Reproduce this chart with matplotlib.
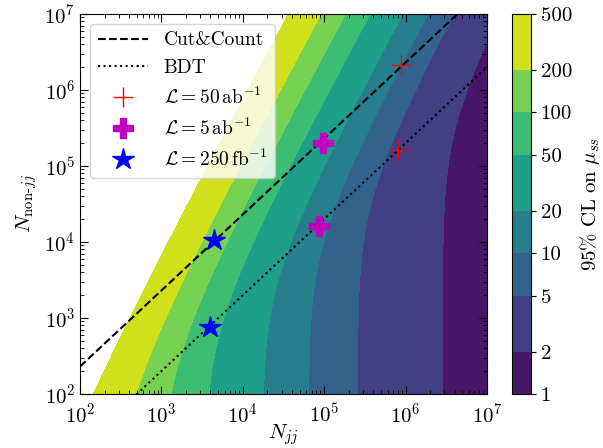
import numpy as np
import matplotlib
matplotlib.use('Agg')
import matplotlib.pyplot as plt
from matplotlib.colors import LogNorm

plt.rcParams['mathtext.fontset'] = 'cm'
plt.rcParams['font.family'] = 'serif'
plt.rcParams['font.serif'] = ['cmr10', 'DejaVu Serif']
plt.rcParams['axes.formatter.use_mathtext'] = True

# contour levels of the 95% CL limit
levels = [1, 2, 5, 10, 20, 50, 100, 200, 500]
level_labels = ['1', '2', '5', '10', '20', '50', '100', '200', '500']

# limit surface, fitted to the contour positions:
# mu = sqrt(a*Njj + b*Nnon + c*Njj^2) / Njj + d / (Njj + n0)
coef_a = 5.5e6
coef_b = 3.3e7
coef_c = 2.0
coef_d = 4.0e4
coef_n0 = 500.0

# working-point lines
cc_njj = [1e2, 1e7]
cc_nnon = [2.3e2, 2.3e7]
bdt_njj = [1e2, 1e7]
bdt_nnon = [2.0e1, 2.0e6]

# benchmark points: (cut&count, bdt)
lumi50_njj = [8.7e5, 8.0e5]
lumi50_nnon = [2.1e6, 1.6e5]
lumi5_njj = [9.6e4, 8.7e4]
lumi5_nnon = [2.0e5, 1.6e4]
lumi250_njj = [4.4e3, 4.0e3]
lumi250_nnon = [1.07e4, 7.6e2]

njj = np.logspace(2, 7, 400)
nnon = np.logspace(2, 7, 400)
X, Y = np.meshgrid(njj, nnon)
Z = np.sqrt(coef_a * X + coef_b * Y + coef_c * X**2) / X + coef_d / (X + coef_n0)

fig = plt.figure(figsize=(6.03, 4.48), dpi=100)
ax = fig.add_axes([0.1327, 0.1205, 0.6749, 0.8483])
cax = fig.add_axes([0.849, 0.1205, 0.0315, 0.8483])

cs = ax.contourf(X, Y, Z, levels=levels, norm=LogNorm(vmin=1, vmax=500), cmap='viridis')

ax.plot(cc_njj, cc_nnon, 'k--', lw=1.5, label='Cut&Count')
ax.plot(bdt_njj, bdt_nnon, 'k:', lw=1.5, label='BDT')
ax.plot(lumi50_njj, lumi50_nnon, '+', color='r', ms=15, mew=1.0, ls='none',
        label=r'$\mathcal{L} = 50\,\mathrm{ab}^{-1}$')
ax.plot(lumi5_njj, lumi5_nnon, 'P', color='m', ms=14, ls='none',
        label=r'$\mathcal{L} = 5\,\mathrm{ab}^{-1}$')
ax.plot(lumi250_njj, lumi250_nnon, '*', color='b', ms=16, ls='none',
        label=r'$\mathcal{L} = 250\,\mathrm{fb}^{-1}$')

ax.set_xscale('log')
ax.set_yscale('log')
ax.set_xlim(1e2, 1e7)
ax.set_ylim(1e2, 1e7)
ax.tick_params(which='both', direction='in', top=True, right=True, labelsize=15)
ax.tick_params(axis='x', which='major', pad=6)
ax.tick_params(which='major', length=6)
ax.tick_params(which='minor', length=3)
ax.set_xlabel(r'$N_{jj}$', fontsize=15, labelpad=-3)
ax.set_ylabel(r'$N_{\mathrm{non}\text{-}jj}$', fontsize=15)

ax.legend(loc='upper left', fontsize=14, handlelength=2.6)

cbar = fig.colorbar(cs, cax=cax, ticks=levels)
cbar.minorticks_off()
cbar.ax.set_yticklabels(level_labels)
cbar.ax.tick_params(labelsize=15)
cbar.set_label(r'$95\%\ \mathrm{CL\ on}\ \mu_{ss}$', fontsize=15)

plt.savefig('out.png', dpi=100)
